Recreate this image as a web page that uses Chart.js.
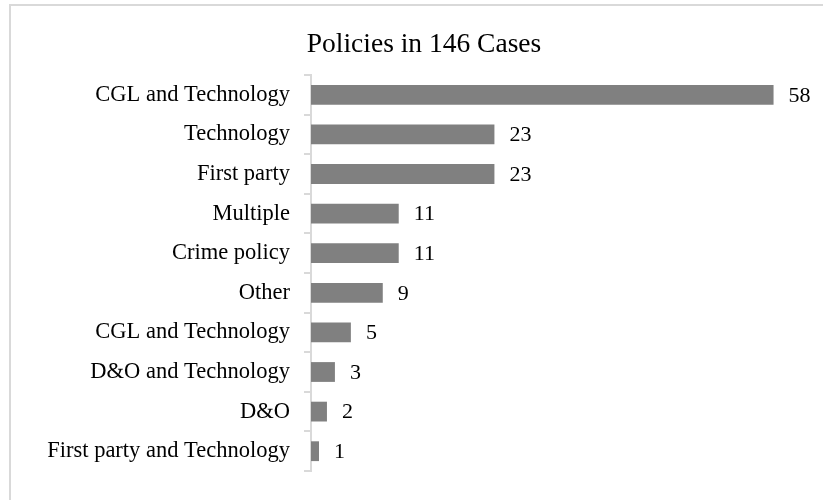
<!DOCTYPE html>
<html>
<head>
<meta charset="utf-8">
<script src="https://cdn.jsdelivr.net/npm/chart.js@4"></script>
<style>
  html,body{margin:0;padding:0;overflow:hidden;background:#fff;}
  #frame{position:absolute;left:9px;top:4px;width:840px;height:520px;border:2px solid #d9d9d9;box-sizing:border-box;}
  #wrap{position:absolute;left:0;top:0;width:823px;height:500px;}
</style>
</head>
<body>
<div id="frame"></div>
<div id="wrap"><canvas id="chart" width="823" height="500"></canvas></div>
<script>
const categories = ['CGL and Technology','Technology','First party','Multiple','Crime policy','Other','CGL and Technology','D&O and Technology','D&O','First party and Technology'];
const counts = [58, 23, 23, 11, 11, 9, 5, 3, 2, 1];

const serif = '"Liberation Serif", "Times New Roman", serif';

// value labels to the right of each bar
const barLabels = {
  id: 'barLabels',
  afterDatasetsDraw(chart){
    const ctx = chart.ctx;
    const meta = chart.getDatasetMeta(0);
    ctx.save();
    ctx.font = '22px ' + serif;
    ctx.fillStyle = '#000';
    ctx.textAlign = 'left';
    ctx.textBaseline = 'middle';
    meta.data.forEach((bar, i) => {
      ctx.fillText(String(counts[i]), bar.x + 15, bar.y + 1);
    });
    ctx.restore();
  }
};

new Chart(document.getElementById('chart'), {
  type: 'bar',
  data: {
    labels: categories,
    datasets: [{
      data: counts,
      backgroundColor: '#808080',
      barPercentage: 0.5,
      categoryPercentage: 1
    }]
  },
  options: {
    indexAxis: 'y',
    responsive: false,
    animation: false,
    layout: { padding: { top: 18.5, bottom: 29, left: 25, right: 0 } },
    plugins: {
      legend: { display: false },
      tooltip: { enabled: false },
      title: {
        display: true,
        text: 'Policies in 146 Cases',
        color: '#000',
        font: { family: serif, size: 27.5, weight: 'normal' },
        padding: { top: 10, bottom: 13.5 }
      }
    },
    scales: {
      x: { display: false, min: 0, max: 64.2 },
      y: {
        afterFit(scale){ scale.width = 286; },
        border: { color: '#d9d9d9', width: 2 },
        grid: { drawOnChartArea: false, drawTicks: true, tickLength: 7, color: '#d9d9d9', lineWidth: 2, offset: true },
        ticks: { color: '#000', padding: 14, font: { family: serif, size: 22.5 } }
      }
    }
  },
  plugins: [barLabels]
});
</script>
</body>
</html>
